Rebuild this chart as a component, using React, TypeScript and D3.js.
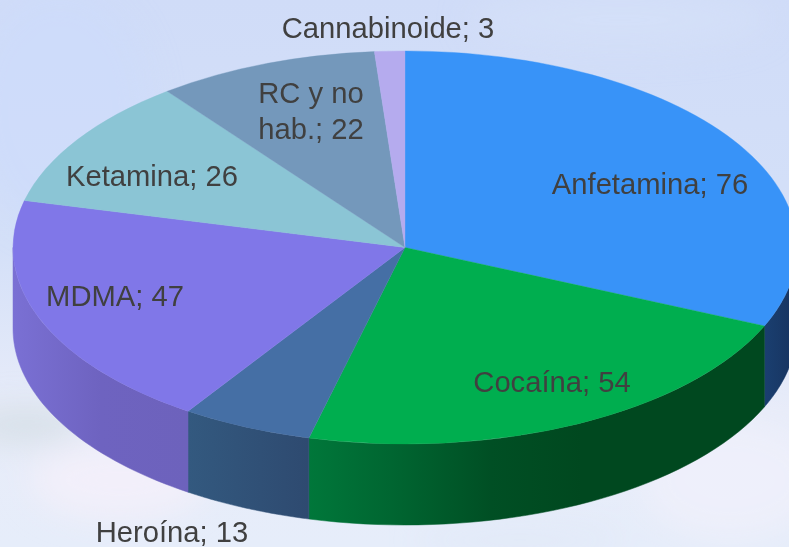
import React from "react";
import * as d3 from "d3";

const categories = ["Anfetamina", "Cocaína", "Heroína", "MDMA", "Ketamina", "RC y no hab.", "Cannabinoide"];
const values = [76, 54, 13, 47, 26, 22, 3];
const topColors = ["#3893f8", "#00ae4f", "#456fa5", "#8077e8", "#8bc5d5", "#7498bb", "#b5abee"];
const sideStops = [
  ["#1a3f70", "#17335f"],
  ["#00773a", "#006430", "#004f24", "#00481f", "#00481f", "#00481f"],
  ["#33597f", "#2e4a70"],
  ["#7a70d4", "#6e63c0", "#6d62bc"],
  ["#6f9aa6", "#6f9aa6"],
  ["#5c7a96", "#5c7a96"],
  ["#9189be", "#9189be"],
];
const labelLines = [
  ["Anfetamina; 76"],
  ["Cocaína; 54"],
  ["Heroína; 13"],
  ["MDMA; 47"],
  ["Ketamina; 26"],
  ["RC y no", "hab.; 22"],
  ["Cannabinoide; 3"],
];
const labelAt = [
  [650, 194],
  [552, 392],
  [172, 542],
  [115, 306],
  [152, 186],
  [311, 103, 139],
  [388, 38],
];

const W = 789, H = 547;
const cx = 405, cy = 247.5, rx = 392, ry = 196.5, depth = 81;

const pie = d3.pie<number>().sort(null)(values);
const arcGen = d3.arc<d3.PieArcDatum<number>>().innerRadius(0).outerRadius(rx);
const ex = (a: number) => cx + rx * Math.sin(a);
const ey = (a: number) => cy - ry * Math.cos(a);

function sidePath(a0: number, a1: number) {
  const s = Math.max(a0, Math.PI / 2), e = Math.min(a1, 1.5 * Math.PI);
  if (e <= s) return null;
  const sweep = d3.range(0, 41).map((i) => s + ((e - s) * i) / 40);
  const line = d3.line<[number, number]>();
  const top = sweep.map((a) => [ex(a), ey(a)] as [number, number]);
  const bottom = sweep.slice().reverse().map((a) => [ex(a), ey(a) + depth] as [number, number]);
  return { d: line([...top, ...bottom])! + "Z", x0: Math.min(ex(s), ex(e)), x1: Math.max(ex(s), ex(e)) };
}

const clouds = [
  { x: 25, y: 425, rx: 60, ry: 18, c: "#c6d3d8", o: 0.5 },
  { x: 120, y: 480, rx: 90, ry: 40, c: "#f3effa", o: 0.9 },
  { x: 60, y: 110, rx: 90, ry: 120, c: "#cddcfb", o: 0.7 },
  { x: 620, y: 20, rx: 150, ry: 30, c: "#d5e0f7", o: 0.8 },
  { x: 730, y: 480, rx: 90, ry: 60, c: "#eef0fb", o: 0.9 },
  { x: 520, y: 540, rx: 100, ry: 14, c: "#e0e8f8", o: 0.8 },
];

export default function App() {
  return (
    <svg width={W} height={H} viewBox={`0 0 ${W} ${H}`} style={{ position: "fixed", left: 0, top: 0, display: "block" }}>
      <defs>
        <linearGradient id="bg" x1="0" y1="0" x2="0" y2="1">
          <stop offset="0" stopColor="#d0dcf8" />
          <stop offset="0.45" stopColor="#d4e0f8" />
          <stop offset="0.75" stopColor="#e8ecf9" />
          <stop offset="1" stopColor="#e6edfa" />
        </linearGradient>
        <filter id="blur" x="-50%" y="-50%" width="200%" height="200%">
          <feGaussianBlur stdDeviation="16" />
        </filter>
        {pie.map((p, i) => {
          const s = sidePath(p.startAngle, p.endAngle);
          if (!s) return null;
          const stops = sideStops[i];
          return (
            <linearGradient key={i} id={`side${i}`} gradientUnits="userSpaceOnUse" x1={s.x0} x2={s.x1} y1="0" y2="0">
              {stops.map((c, j) => (
                <stop key={j} offset={j / (stops.length - 1)} stopColor={c} />
              ))}
            </linearGradient>
          );
        })}
      </defs>
      <rect width={W} height={H} fill="url(#bg)" />
      <g filter="url(#blur)">
        {clouds.map((c, i) => (
          <ellipse key={i} cx={c.x} cy={c.y} rx={c.rx} ry={c.ry} fill={c.c} opacity={c.o} />
        ))}
      </g>
      {pie.map((p, i) => {
        const s = sidePath(p.startAngle, p.endAngle);
        return s ? <path key={i} d={s.d} fill={`url(#side${i})`} stroke={`url(#side${i})`} strokeWidth={0.5} /> : null;
      })}
      <g transform={`translate(${cx},${cy}) scale(1,${ry / rx})`}>
        {pie.map((p, i) => (
          <path key={i} d={arcGen(p)!} fill={topColors[i]} stroke={topColors[i]} strokeWidth={0.5} />
        ))}
      </g>
      <g fontFamily="'Liberation Sans', Arial, sans-serif" fontSize={29.2} fill="#404040" textAnchor="middle">
        {categories.map((c, i) => (
          <text key={c} x={labelAt[i][0]} y={labelAt[i][1]}>
            {labelLines[i].map((t, j) => (
              <tspan key={j} x={labelAt[i][0]} y={labelAt[i][1 + j]}>{t}</tspan>
            ))}
          </text>
        ))}
      </g>
    </svg>
  );
}
